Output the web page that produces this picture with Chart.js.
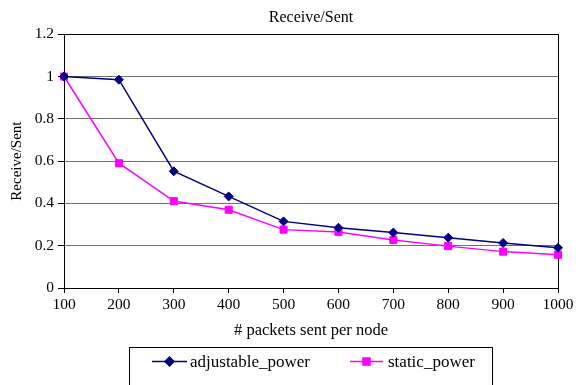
<!DOCTYPE html>
<html>
<head>
<meta charset="utf-8">
<script src="https://cdn.jsdelivr.net/npm/chart.js@4/dist/chart.umd.min.js"></script>
<style>
  html, body { margin: 0; padding: 0; background: #fff; }
  #wrap { width: 587px; height: 385px; position: relative; }
</style>
</head>
<body>
<div id="wrap"><canvas id="c" width="587" height="385"></canvas></div>
<script>
// Packets sent per node (x categories)
const categories = ['100', '200', '300', '400', '500', '600', '700', '800', '900', '1000'];
// Receive/Sent ratio for each power mode
const adjustablePower = [1.0, 0.985, 0.552, 0.433, 0.315, 0.285, 0.262, 0.238, 0.213, 0.19];
const staticPower = [1.0, 0.59, 0.411, 0.37, 0.276, 0.265, 0.227, 0.198, 0.172, 0.157];
// Y axis tick labels
const yTickLabels = ['0', '0.2', '0.4', '0.6', '0.8', '1', '1.2'];

const SERIF = '"Liberation Serif", "Times New Roman", serif';

// Boxed legend under the x-axis title, with line-and-marker keys
const boxedLegend = {
  id: 'boxedLegend',
  afterDraw(chart) {
    const ctx = chart.ctx;
    ctx.save();
    ctx.strokeStyle = '#000';
    ctx.lineWidth = 1;
    ctx.strokeRect(129.5, 347.5, 363, 50);
    const items = [
      { ds: chart.data.datasets[0], x0: 152, x1: 187, tx: 190 },
      { ds: chart.data.datasets[1], x0: 350, x1: 383, tx: 388 }
    ];
    const y = 361.5;
    items.forEach(it => {
      ctx.strokeStyle = it.ds.borderColor;
      ctx.lineWidth = 1.5;
      ctx.beginPath();
      ctx.moveTo(it.x0, y);
      ctx.lineTo(it.x1, y);
      ctx.stroke();
      ctx.fillStyle = it.ds.pointBackgroundColor;
      ctx.strokeStyle = it.ds.pointBorderColor;
      Chart.helpers.drawPoint(ctx, {
        pointStyle: it.ds.pointStyle,
        radius: it.ds.pointRadius,
        rotation: 0,
        borderWidth: 1
      }, (it.x0 + it.x1) / 2, y);
      ctx.fillStyle = '#000';
      ctx.font = '17px ' + SERIF;
      ctx.textBaseline = 'middle';
      ctx.textAlign = 'left';
      ctx.fillText(it.ds.label, it.tx, y + 1);
    });
    ctx.restore();
  }
};

new Chart(document.getElementById('c'), {
  type: 'line',
  data: {
    labels: categories,
    datasets: [
      {
        label: 'adjustable_power',
        data: adjustablePower,
        borderColor: '#000080',
        backgroundColor: '#000080',
        pointBackgroundColor: '#000080',
        pointBorderColor: '#000080',
        borderWidth: 1.5,
        pointStyle: 'rectRot',
        pointRadius: 4.5,
        pointBorderWidth: 1,
        tension: 0,
        fill: false
      },
      {
        label: 'static_power',
        data: staticPower,
        borderColor: '#FF00FF',
        backgroundColor: '#FF00FF',
        pointBackgroundColor: '#FF00FF',
        pointBorderColor: '#FF00FF',
        borderWidth: 1.5,
        pointStyle: 'rect',
        pointRadius: 5,
        pointBorderWidth: 1,
        tension: 0,
        fill: false
      }
    ]
  },
  options: {
    responsive: false,
    animation: false,
    devicePixelRatio: 1,
    layout: { padding: { left: 0, right: 29, top: 0, bottom: 40 } },
    plugins: {
      legend: { display: false },
      tooltip: { enabled: false },
      title: {
        display: true,
        text: 'Receive/Sent',
        fullSize: false,
        color: '#000',
        font: { family: SERIF, size: 16, weight: 'normal' },
        padding: { top: 8, bottom: 7 }
      }
    },
    scales: {
      x: {
        type: 'category',
        offset: false,
        afterFit(s) { s.height = 57; },
        border: { display: true, color: '#000', width: 1 },
        grid: {
          display: true,
          drawOnChartArea: true,
          drawTicks: true,
          tickLength: 5,
          tickColor: '#000',
          color: (c) => (c.index === categories.length - 1 ? '#000' : 'rgba(0,0,0,0)')
        },
        ticks: {
          color: '#000',
          font: { family: SERIF, size: 15.5 },
          padding: 3,
          maxRotation: 0,
          autoSkip: false
        },
        title: {
          display: true,
          text: '# packets sent per node',
          color: '#000',
          font: { family: SERIF, size: 16.5 },
          padding: { top: 0, bottom: 4 }
        }
      },
      y: {
        min: 0,
        max: 1.2,
        afterFit(s) { s.width = 64; },
        border: { display: true, color: '#000', width: 1 },
        grid: {
          drawTicks: true,
          tickLength: 6,
          tickColor: '#000',
          lineWidth: 1,
          color: (c) => (c.tick && Math.abs(c.tick.value - 1.2) < 1e-6 ? '#000' : '#707070')
        },
        ticks: {
          stepSize: 0.2,
          color: '#000',
          font: { family: SERIF, size: 15.5 },
          padding: 4,
          callback: (v, i) => yTickLabels[i]
        },
        title: {
          display: true,
          text: 'Receive/Sent',
          color: '#000',
          font: { family: SERIF, size: 15 },
          padding: { top: 8, bottom: 0 }
        }
      }
    }
  },
  plugins: [boxedLegend]
});
</script>
</body>
</html>
